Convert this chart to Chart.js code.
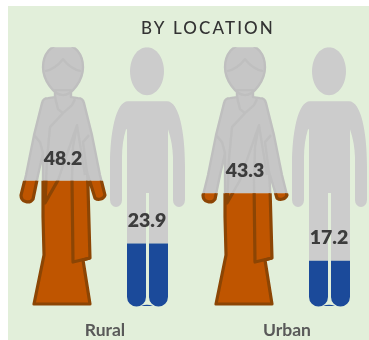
<!DOCTYPE html>
<html>
<head>
<meta charset="utf-8">
<title>By location</title>
<style>
  html, body { margin: 0; padding: 0; background: #fff; overflow: hidden; }
  #chart { position: absolute; left: 8px; top: 6px; background: #e2efda; }
</style>
</head>
<body>
<canvas id="chart" width="361" height="334"></canvas>
<script src="https://cdn.jsdelivr.net/npm/chart.js@4"></script>
<script>
// Data
const locations = ['Rural', 'Urban'];
const women = [48.2, 43.3];
const men = [23.9, 17.2];

// Silhouettes, drawn in a 258 high box centred on each bar
const FIGURE_HEIGHT = 258;
const FIGURES = {
  woman: {
    shapes: [
      'M-8 43 L-8 50 L-15 51 Q-20 51 -21 56 L-29 88 L-37 128 L-42 148 A6.6 6.6 0 0 0 -30 152 L-25 128 L-20 106 L-20 170 L-19 208 L-29 257 L27 257 L20 213 L27 211 L25 140 L24 125 L32 151 A6.6 6.6 0 0 0 42 148 L37 128 L29 88 L21 56 Q20 51 15 51 L8 50 L8 43 Z',
      'M0 -3 C12 -3 20 7 20 20 C20 33 9 48 0 48 C-9 48 -20 33 -20 20 C-20 7 -12 -3 0 -3 Z'
    ],
    lines: 'M-18 24 Q-8 22 0 12 Q8 22 18 24 M-8 50 L-5 62 L0 66 L9 58 L12 52 M0 66 L-13 80 L-16 112 L-18 156 L-5 133 L14 78 L22 128 M14 78 L10 100 L9 133 L10 215 L27 211 M-29 88 L-23 95 L-20 106 M26 88 L20 95 L24 125',
    rest: '#c6c6c6',
    restLine: '#bfbfbf',
    fill: '#bf5500',
    fillLine: '#8c4504'
  },
  man: {
    shapes: [
      'M-19 54 L20 54 C32 54 38 85 38 118 L38 153 A6 7 0 0 1 26 153 L26 110 Q25.5 95 21 82 L21 250 A9.5 9.5 0 0 1 2 250 L2 146 L-1 146 L-1 250 A9.5 9.5 0 0 1 -20 250 L-20 82 L-21 82 Q-25 95 -25 110 L-25 153 A6 7 0 0 1 -37 153 L-37 118 C-37 85 -31 54 -19 54 Z',
      'M0 0 C9.4 0 17 10.7 17 24 C17 37.3 9.4 48 0 48 C-9.4 48 -17 37.3 -17 24 C-17 10.7 -9.4 0 0 0 Z',
      'M-6 259 Q0 256.5 6 259 Z'
    ],
    lines: null,
    rest: '#cccccc',
    restLine: null,
    fill: '#1b4a9a',
    fillLine: null
  }
};

function paintFigure(ctx, figure, useFill) {
  const body = figure.shapes.map(d => new Path2D(d));
  const lineColor = useFill ? figure.fillLine : figure.restLine;
  ctx.fillStyle = useFill ? figure.fill : figure.rest;
  body.forEach(p => ctx.fill(p));
  if (!lineColor) return;
  ctx.strokeStyle = lineColor;
  ctx.lineWidth = useFill ? 3.2 : 2.4;
  ctx.lineJoin = 'round';
  body.forEach(p => ctx.stroke(p));
  ctx.stroke(new Path2D(figure.lines));
}

function clipped(ctx, x, top, bottom, draw) {
  ctx.save();
  ctx.beginPath();
  ctx.rect(x - 60, top, 120, bottom - top);
  ctx.clip();
  draw();
  ctx.restore();
}

// Silhouettes filled up to the bar value, with the value above the fill line
const pictogram = {
  id: 'pictogram',
  afterLayout(chart) {
    const block = chart.titleBlock;
    const draw = block.draw;
    block.draw = function () {
      const ctx = chart.ctx;
      ctx.save();
      ctx.letterSpacing = '2.1px';
      ctx.translate(12, 0);
      draw.call(block);
      ctx.restore();
    };
  },
  afterDatasetsDraw(chart) {
    const { ctx } = chart;
    const yScale = chart.scales.y;
    const top = yScale.getPixelForValue(100);
    const base = yScale.getPixelForValue(0);
    const scale = (base - top) / FIGURE_HEIGHT;

    chart.data.datasets.forEach((dataset, i) => {
      const figure = FIGURES[dataset.figure];
      chart.getDatasetMeta(i).data.forEach((bar, j) => {
        const place = () => {
          ctx.save();
          ctx.translate(bar.x, top);
          ctx.scale(scale, scale);
        };
        clipped(ctx, bar.x, top, bar.y, () => {
          place();
          paintFigure(ctx, figure, false);
          ctx.restore();
        });
        clipped(ctx, bar.x, bar.y, base + 4, () => {
          place();
          paintFigure(ctx, figure, true);
          ctx.restore();
        });
        ctx.fillStyle = '#3c3c3c';
        ctx.font = '800 19.5px Lato';
        ctx.textAlign = 'center';
        ctx.textBaseline = 'middle';
        ctx.fillText(dataset.data[j].toFixed(1), bar.x, bar.y - 22.5);
      });
    });
  }
};

new Chart(document.getElementById('chart'), {
  type: 'bar',
  data: {
    labels: locations,
    datasets: [
      { label: 'Women', figure: 'woman', data: women, backgroundColor: 'transparent' },
      { label: 'Men', figure: 'man', data: men, backgroundColor: 'transparent' }
    ]
  },
  options: {
    responsive: false,
    animation: false,
    layout: { padding: { left: 97, right: 82, top: 0, bottom: 0 } },
    categoryPercentage: 0.923,
    barPercentage: 1,
    plugins: {
      legend: { display: false },
      tooltip: { enabled: false },
      title: {
        display: true,
        text: 'BY LOCATION',
        color: '#333333',
        font: { family: 'Lato', size: 17, weight: '500' },
        padding: { top: 12.8, bottom: 8 }
      }
    },
    scales: {
      x: {
        offset: false,
        grid: { display: false, drawTicks: false },
        border: { display: false },
        ticks: { color: '#595959', font: { family: 'Lato', size: 17.5, weight: 'bold' }, padding: 14.5, maxRotation: 0, autoSkip: false },
        afterFit(scale) { scale.height = 35; }
      },
      y: { display: false, min: 0, max: 100 }
    }
  },
  plugins: [pictogram]
});
</script>
</body>
</html>
